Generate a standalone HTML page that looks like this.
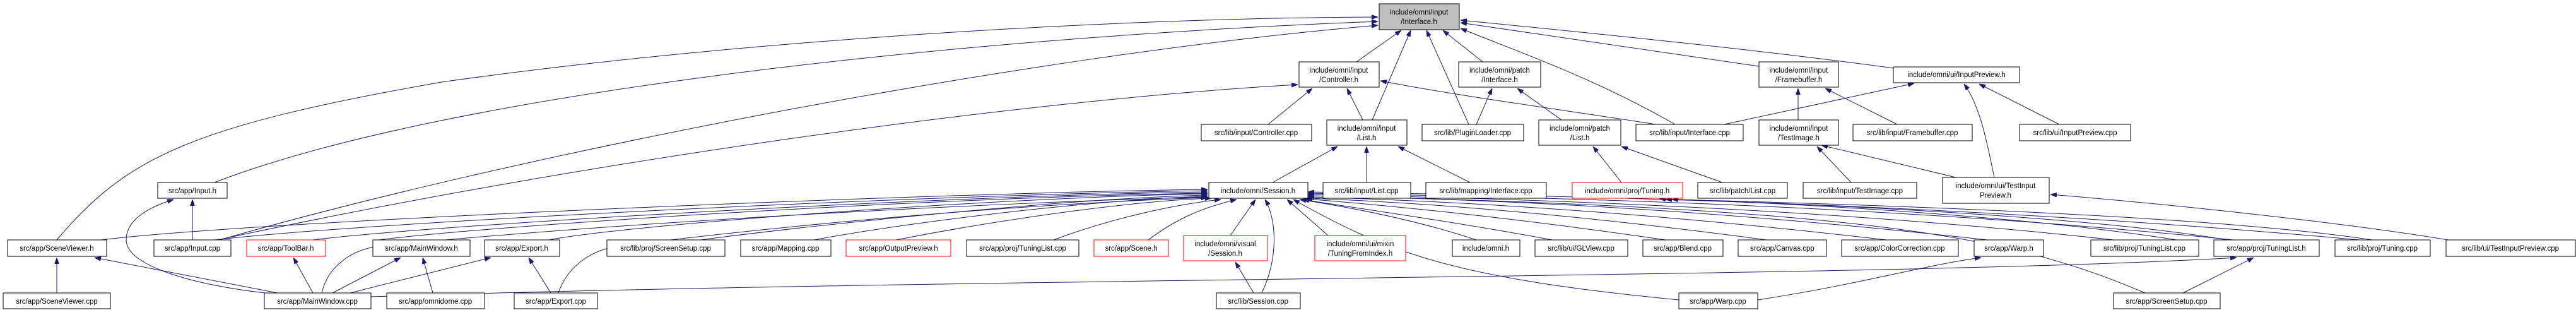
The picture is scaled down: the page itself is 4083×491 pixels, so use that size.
<!DOCTYPE html>
<html><head><meta charset="utf-8"><style>
html,body{margin:0;padding:0;background:#fff;width:4083px;height:491px;overflow:hidden}
svg{display:block}
text{font-family:"Liberation Sans",sans-serif;font-size:11.5px;fill:#000;text-anchor:middle}
.n{fill:#fff;stroke:#000;stroke-width:1}
.r{fill:#fff;stroke:#ff0000;stroke-width:1}
.e{fill:none;stroke:#191970;stroke-width:1}
</style></head><body>
<svg width="4083" height="491" viewBox="0 0 4083 491" xmlns="http://www.w3.org/2000/svg">
<defs><marker id="a" viewBox="0 0 10 10" refX="10" refY="5" markerWidth="10" markerHeight="7" markerUnits="userSpaceOnUse" orient="auto" preserveAspectRatio="none"><path d="M0,0L10,5L0,10z" fill="#191970" stroke="#191970"/></marker></defs>
<g class="e" marker-end="url(#a)">
<path d="M90,380 C200,250 300,200 700,130 C1200,60 1800,28 2184,27"/>
<path d="M340,289 C700,150 1500,60 2184,34"/>
<path d="M348,380 C800,250 1600,90 2184,40"/>
<path d="M345,380 C900,260 1600,160 2057,134"/>
<path d="M2150,98 L2221,48"/>
<path d="M2175,190 L2236,48"/>
<path d="M2328,197 L2261,48"/>
<path d="M2350,98 L2287,48"/>
<path d="M2655,197 C2520,120 2400,80 2315,45"/>
<path d="M2788,105 L2315,36"/>
<path d="M3001,108 C2800,80 2500,50 2315,32"/>
<path d="M2010,197 L2080,140"/>
<path d="M2160,190 L2135,140"/>
<path d="M2625,197 C2450,170 2300,150 2188,128"/>
<path d="M2340,197 L2365,140"/>
<path d="M2475,190 L2405,140"/>
<path d="M2017,289 L2120,232"/>
<path d="M2166,289 L2166,232"/>
<path d="M2330,289 L2216,232"/>
<path d="M2570,289 L2525,232"/>
<path d="M2730,289 L2570,232"/>
<path d="M2850,190 L2850,140"/>
<path d="M3007,197 L2893,140"/>
<path d="M2733,197 L3034,132"/>
<path d="M3161,281 C3150,230 3140,170 3113,133"/>
<path d="M3264,197 L3137,133"/>
<path d="M2934,289 L2880,232"/>
<path d="M3100,281 L2887,230"/>
<path d="M3880,380 C3700,350 3400,320 3250,308"/>
<path d="M305,380 L305,316"/>
<path d="M420,464 C300,450 200,420 200,380 C200,350 230,330 275,316"/>
<path d="M90,464 L90,408"/>
<path d="M440,464 L150,408"/>
<path d="M496,464 L465,408"/>
<path d="M527,464 L635,408"/>
<path d="M686,464 L670,408"/>
<path d="M555,464 L778,408"/>
<path d="M873,464 L838,408"/>
<path d="M1987,464 L1958,415"/>
<path d="M2000,464 C2030,400 2020,340 2005,316"/>
<path d="M2786,475 C2950,450 3050,420 3140,408"/>
<path d="M3460,464 L3572,408"/>
<path d="M588,470 C1500,440 3000,440 3545,408"/>
<path d="M3530,380 C3300,340 2800,320 2640,316"/>
<path d="M3450,380 C3200,340 2800,320 2630,315"/>
<path d="M3760,380 C3500,340 2900,322 2650,316"/>
<path d="M2661,475 C2300,440 2200,400 2050,316"/>
<path d="M3400,464 C3200,380 3000,330 2073,310"/>
<path d="M160,380 C400,350 1500,305 1914,300"/>
<path d="M340,380 C600,350 1500,308 1914,302"/>
<path d="M495,380 C700,355 1500,310 1914,304"/>
<path d="M600,380 C800,355 1500,312 1914,306"/>
<path d="M870,380 C1000,355 1600,312 1914,307"/>
<path d="M1110,380 C1300,355 1700,314 1914,309"/>
<path d="M1290,380 C1450,350 1750,315 1914,311"/>
<path d="M1420,380 C1600,345 1800,318 1920,314"/>
<path d="M1670,380 C1750,350 1850,325 1935,316"/>
<path d="M1820,380 C1860,350 1900,330 1960,316"/>
<path d="M1950,373 L1990,316"/>
<path d="M2105,373 L2040,316"/>
<path d="M2340,380 C2250,350 2150,330 2060,316"/>
<path d="M2460,380 C2300,350 2150,330 2065,316"/>
<path d="M2640,380 C2400,345 2200,325 2068,315"/>
<path d="M2800,380 C2500,340 2250,320 2070,314"/>
<path d="M2990,380 C2600,335 2300,318 2073,312"/>
<path d="M3150,380 C2700,330 2350,315 2073,310"/>
<path d="M3350,380 C2900,330 2400,314 2073,308"/>
<path d="M3540,380 C3000,325 2450,312 2073,306"/>
<path d="M3740,380 C3100,322 2500,310 2073,304"/>
<path d="M510,464 C520,420 560,395 600,390 C1000,350 1600,320 1914,312"/>
<path d="M885,464 C900,420 940,395 980,390 C1300,350 1650,322 1914,313"/>
</g>
<g>
<rect x="2186" y="6" width="127" height="41" fill="#bfbfbf" stroke="#000"/><text x="2249" y="23">include/omni/input</text><text x="2249" y="38">/Interface.h</text>
<rect class="n" x="2059" y="98" width="127" height="40"/><text x="2122" y="115">include/omni/input</text><text x="2122" y="130">/Controller.h</text>
<rect class="n" x="2312" y="98" width="130" height="40"/><text x="2377" y="115">include/omni/patch</text><text x="2377" y="130">/Interface.h</text>
<rect class="n" x="2788" y="98" width="126" height="40"/><text x="2851" y="115">include/omni/input</text><text x="2851" y="130">/Framebuffer.h</text>
<rect class="n" x="3001" y="106" width="200" height="25"/><text x="3101" y="122">include/omni/ui/InputPreview.h</text>
<rect class="n" x="2103" y="190" width="127" height="40"/><text x="2166" y="207">include/omni/input</text><text x="2166" y="222">/List.h</text>
<rect class="n" x="1904" y="197" width="175" height="26"/><text x="1991" y="214">src/lib/input/Controller.cpp</text>
<rect class="n" x="2254" y="197" width="161" height="26"/><text x="2334" y="214">src/lib/PluginLoader.cpp</text>
<rect class="n" x="2439" y="190" width="130" height="40"/><text x="2504" y="207">include/omni/patch</text><text x="2504" y="222">/List.h</text>
<rect class="n" x="2593" y="197" width="170" height="26"/><text x="2678" y="214">src/lib/input/Interface.cpp</text>
<rect class="n" x="2788" y="190" width="126" height="40"/><text x="2851" y="207">include/omni/input</text><text x="2851" y="222">/TestImage.h</text>
<rect class="n" x="2937" y="197" width="189" height="26"/><text x="3031" y="214">src/lib/input/Framebuffer.cpp</text>
<rect class="n" x="3201" y="197" width="176" height="26"/><text x="3289" y="214">src/lib/ui/InputPreview.cpp</text>
<rect class="n" x="250" y="289" width="110" height="25"/><text x="305" y="306">src/app/Input.h</text>
<rect class="n" x="1916" y="289" width="157" height="25"/><text x="1994" y="306">include/omni/Session.h</text>
<rect class="n" x="2097" y="289" width="139" height="25"/><text x="2166" y="306">src/lib/input/List.cpp</text>
<rect class="n" x="2260" y="289" width="191" height="25"/><text x="2355" y="306">src/lib/mapping/Interface.cpp</text>
<rect class="r" x="2492" y="289" width="175" height="25"/><text x="2579" y="306">include/omni/proj/Tuning.h</text>
<rect class="n" x="2691" y="289" width="142" height="25"/><text x="2762" y="306">src/lib/patch/List.cpp</text>
<rect class="n" x="2858" y="289" width="180" height="25"/><text x="2948" y="306">src/lib/input/TestImage.cpp</text>
<rect class="n" x="3079" y="281" width="169" height="41"/><text x="3163" y="298">include/omni/ui/TestInput</text><text x="3163" y="313">Preview.h</text>
<rect class="n" x="12" y="380" width="157" height="26"/><text x="90" y="397">src/app/SceneViewer.h</text>
<rect class="n" x="244" y="380" width="122" height="26"/><text x="305" y="397">src/app/Input.cpp</text>
<rect class="r" x="391" y="380" width="125" height="26"/><text x="453" y="397">src/app/ToolBar.h</text>
<rect class="n" x="591" y="380" width="154" height="26"/><text x="668" y="397">src/app/MainWindow.h</text>
<rect class="n" x="768" y="380" width="119" height="26"/><text x="827" y="397">src/app/Export.h</text>
<rect class="n" x="962" y="380" width="187" height="26"/><text x="1055" y="397">src/lib/proj/ScreenSetup.cpp</text>
<rect class="n" x="1174" y="380" width="143" height="26"/><text x="1245" y="397">src/app/Mapping.cpp</text>
<rect class="r" x="1341" y="380" width="166" height="26"/><text x="1424" y="397">src/app/OutputPreview.h</text>
<rect class="n" x="1532" y="380" width="178" height="26"/><text x="1621" y="397">src/app/proj/TuningList.cpp</text>
<rect class="r" x="1734" y="380" width="118" height="26"/><text x="1793" y="397">src/app/Scene.h</text>
<rect class="r" x="1876" y="373" width="133" height="40"/><text x="1942" y="390">include/omni/visual</text><text x="1942" y="405">/Session.h</text>
<rect class="r" x="2084" y="373" width="144" height="40"/><text x="2156" y="390">include/omni/ui/mixin</text><text x="2156" y="405">/TuningFromIndex.h</text>
<rect class="n" x="2302" y="380" width="107" height="26"/><text x="2355" y="397">include/omni.h</text>
<rect class="n" x="2433" y="380" width="147" height="26"/><text x="2506" y="397">src/lib/ui/GLView.cpp</text>
<rect class="n" x="2604" y="380" width="127" height="26"/><text x="2667" y="397">src/app/Blend.cpp</text>
<rect class="n" x="2755" y="380" width="140" height="26"/><text x="2825" y="397">src/app/Canvas.cpp</text>
<rect class="n" x="2919" y="380" width="185" height="26"/><text x="3011" y="397">src/app/ColorCorrection.cpp</text>
<rect class="n" x="3129" y="380" width="110" height="26"/><text x="3184" y="397">src/app/Warp.h</text>
<rect class="n" x="3314" y="380" width="171" height="26"/><text x="3399" y="397">src/lib/proj/TuningList.cpp</text>
<rect class="n" x="3509" y="380" width="167" height="26"/><text x="3592" y="397">src/app/proj/TuningList.h</text>
<rect class="n" x="3701" y="380" width="151" height="26"/><text x="3776" y="397">src/lib/proj/Tuning.cpp</text>
<rect class="n" x="3877" y="380" width="205" height="26"/><text x="3979" y="397">src/lib/ui/TestInputPreview.cpp</text>
<rect class="n" x="5" y="464" width="170" height="25"/><text x="90" y="481">src/app/SceneViewer.cpp</text>
<rect class="n" x="419" y="464" width="169" height="25"/><text x="503" y="481">src/app/MainWindow.cpp</text>
<rect class="n" x="613" y="464" width="155" height="25"/><text x="690" y="481">src/app/omnidome.cpp</text>
<rect class="n" x="815" y="464" width="132" height="25"/><text x="881" y="481">src/app/Export.cpp</text>
<rect class="n" x="1928" y="464" width="133" height="25"/><text x="1994" y="481">src/lib/Session.cpp</text>
<rect class="n" x="2661" y="464" width="125" height="25"/><text x="2723" y="481">src/app/Warp.cpp</text>
<rect class="n" x="3350" y="464" width="169" height="25"/><text x="3434" y="481">src/app/ScreenSetup.cpp</text>
</g>
</svg>
</body></html>
